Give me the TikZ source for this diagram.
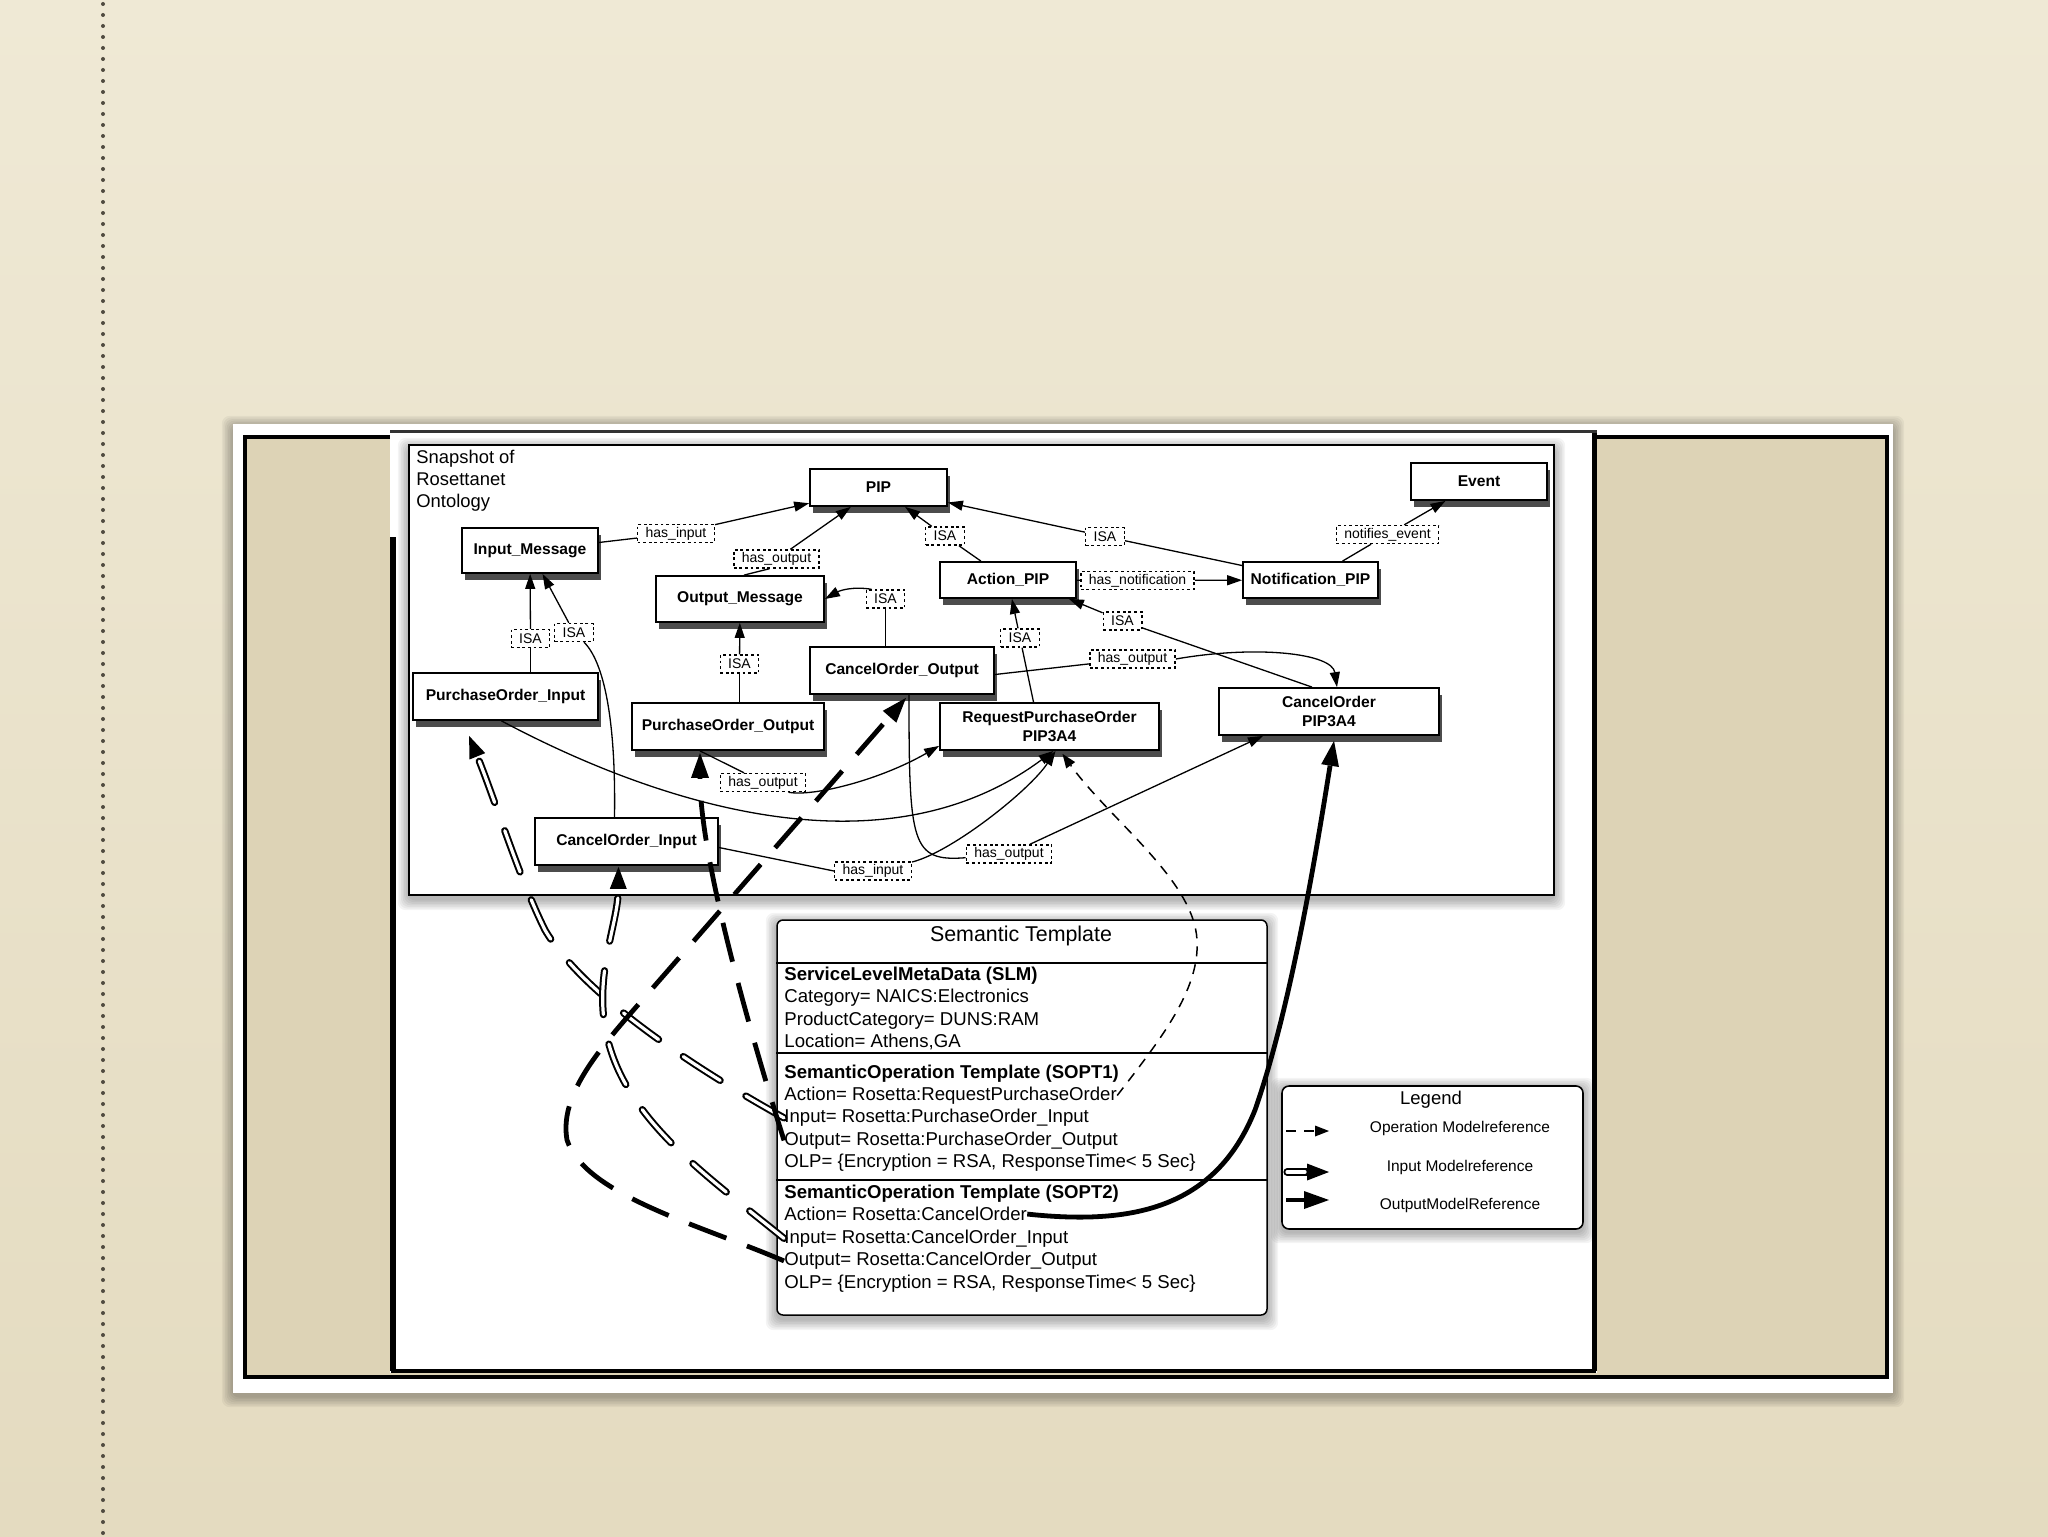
\documentclass[tikz,border=0pt]{standalone}
\usepackage{fontspec}
\setmainfont{Liberation Sans}
\usetikzlibrary{arrows.meta,calc,shadows}
\definecolor{bgtop}{RGB}{239,233,213}
\definecolor{bgbot}{RGB}{228,219,192}
\definecolor{panel}{RGB}{221,211,182}
\definecolor{dotc}{RGB}{80,75,64}
\newcommand{\softshadow}[5]{%
  \foreach \i in {1,...,7}{%
    \fill[black,opacity=0.045,rounded corners=4pt] ({#1-1.6*\i},{#2-1.6*\i+#5}) rectangle ({#3+1.6*\i},{#4+1.6*\i+#5});
  }}
\begin{document}
\begin{tikzpicture}[x=0.5pt,y=-0.5pt,
  onode/.style={draw, fill=white, line width=0.9pt, inner sep=0pt, align=center,
    font=\fontsize{7.8pt}{9.5pt}\selectfont\bfseries,
    drop shadow={shadow xshift=1.5pt,shadow yshift=-3.5pt,fill=black!70,opacity=1}},
  lab/.style={draw, fill=white, line width=0.7pt, dash pattern=on 1.4pt off 1.4pt,
    inner xsep=4pt, inner ysep=0pt, minimum height=9pt, font=\fontsize{7pt}{8pt}\selectfont},
  con/.style={line width=0.65pt},
  arr/.style={con, -{Triangle[length=7.5pt,width=5pt]}},
  tx/.style={anchor=base west, inner sep=0pt, font=\fontsize{9.3pt}{11pt}\selectfont},
  txb/.style={anchor=base west, inner sep=0pt, font=\fontsize{9.3pt}{11pt}\selectfont\bfseries},
  snap/.style={anchor=base west, inner sep=0pt, font=\fontsize{9.2pt}{11pt}\selectfont},
  lgt/.style={anchor=base, inner sep=0pt, font=\fontsize{7.75pt}{9pt}\selectfont},
  opref/.style={line width=0.75pt, dash pattern=on 5pt off 4pt, -{Triangle[length=7pt,width=5.5pt,line width=0pt]}},
  inrefsolid/.style={line width=3.6pt, line cap=round, -{Triangle[length=11pt,width=8.5pt,line width=0pt]},
    postaction={draw=white, line width=1.6pt, arrows=-, shorten >=12pt}},
  inref/.style={inrefsolid, dash pattern=on 22pt off 15pt},
  outref/.style={line width=2.4pt, -{Triangle[length=12.5pt,width=9pt,line width=0pt]}},
  outdash/.style={outref, dash pattern=on 20pt off 11pt}]
\useasboundingbox (0,0) rectangle (2048,1536);
% background
\shade[top color=bgtop, bottom color=bgbot] (0,0) rectangle (2048,1536);
\draw[dotc, line width=2pt, line cap=round, dash pattern=on 0pt off 5.5pt] (103,4) -- (103,1536);
% outer photo frame
\softshadow{233}{424}{1893}{1393}{3}
\fill[white] (233,424) rectangle (1893,1393);
\draw[line width=2pt, fill=panel] (245,437) rectangle (1887,1377);
% paper
\fill[white] (390,430) rectangle (1597,1373);
\draw[line width=3pt] (393,537) -- (393,1371);
\draw[line width=2.5pt] (1594,433) -- (1594,1371);
\draw[line width=2pt] (391,1371) -- (1596,1371);
\draw[black!80, line width=1.5pt] (390,431) -- (1597,431);
% ontology frame
\softshadow{409}{445}{1554}{895}{4}
\node[draw, fill=white, line width=0.9pt, minimum width=572.5pt, minimum height=225pt, inner sep=0pt] (onto) at (981.5,670) {};
\node[snap] (snap1) at (416,463) {Snapshot of};
\node[snap] (snap2) at (416,485.5) {Rosettanet};
\node[snap] (snap3) at (416,507.5) {Ontology};
% concept nodes
\node[onode, minimum width=68.5pt, minimum height=18.5pt] (pip) at (878.5,487.5) {PIP};
\node[onode, minimum width=68pt, minimum height=18.5pt] (event) at (1479,481.5) {Event};
\node[onode, minimum width=68pt, minimum height=22.5pt] (inmsg) at (530,550.5) {Input\_Message};
\node[onode, minimum width=84pt, minimum height=23pt] (outmsg) at (740,599) {Output\_Message};
\node[onode, minimum width=68pt, minimum height=18pt] (actpip) at (1008,580) {Action\_PIP};
\node[onode, minimum width=67.5pt, minimum height=18pt] (notpip) at (1310.5,580) {Notification\_PIP};
\node[onode, minimum width=92pt, minimum height=23.5pt] (coout) at (902,670.5) {CancelOrder\_Output};
\node[onode, minimum width=92.5pt, minimum height=23.5pt] (poin) at (505.5,696.5) {PurchaseOrder\_Input};
\node[onode, minimum width=96pt, minimum height=23.5pt] (poout) at (728,726.5) {PurchaseOrder\_Output};
\node[onode, minimum width=109.5pt, minimum height=23.5pt] (rpo) at (1049.5,726.5) {RequestPurchaseOrder\\PIP3A4};
\node[onode, minimum width=110pt, minimum height=23.5pt] (cop) at (1329,711.5) {CancelOrder\\PIP3A4};
\node[onode, minimum width=91.5pt, minimum height=23.5pt] (coin) at (626.5,841.5) {CancelOrder\_Input};
% relation labels
\node[lab] (l1) at (676,533.5) {has\_input};
\node[lab] (l2) at (776.5,559) {has\_output};
\node[lab] (l3) at (945,536) {ISA};
\node[lab] (l4) at (1105,536.5) {ISA};
\node[lab] (l5) at (1387.5,534.5) {notifies\_event};
\node[lab] (l6) at (1137.5,580.5) {has\_notification};
\node[lab] (l7) at (885.5,599) {ISA};
\node[lab] (l8) at (530.5,638.5) {ISA};
\node[lab] (l9) at (574,632.5) {ISA};
\node[lab] (l10) at (739.5,664) {ISA};
\node[lab] (l11) at (1020,638) {ISA};
\node[lab] (l12) at (1122.5,621) {ISA};
\node[lab] (l13) at (1132.5,659) {has\_output};
\node[lab] (l14) at (763,782.5) {has\_output};
\node[lab] (l15) at (873,871) {has\_input};
\node[lab] (l16) at (1009,854) {has\_output};
% ontology connectors
\draw[con] (inmsg) -- (l1); \draw[arr] (l1) -- (pip);
\draw[con] ([xshift=2pt]outmsg.north) -- ([xshift=-3.5pt]l2.south); \draw[arr] (l2) -- (pip);
\draw[con] (actpip) -- (l3); \draw[arr] (l3) -- (pip);
\draw[con] (notpip) -- (l4); \draw[arr] (l4) -- (pip);
\draw[con] (notpip) -- (l5); \draw[arr] (l5) -- (event);
\draw[con] (actpip) -- (l6); \draw[arr] (l6) -- (notpip);
\draw[con] (l7.south |- coout.north) -- (l7.south);
\draw[arr] ([xshift=3pt]l7.north west) .. controls (852,586) and (839,591) .. (outmsg.east);
\draw[con] (l8.south |- poin.north) -- (l8); \draw[arr] (l8) -- (inmsg);
\draw[con] ([xshift=-6pt]coin.north) .. controls (616,720) and (604,662) .. ([xshift=5pt]l9.south);
\draw[arr] (l9) -- (inmsg);
\draw[con] (l10.south |- poout.north) -- (l10); \draw[arr] (l10) -- (outmsg);
\draw[con] ([xshift=-8pt]rpo.north) -- (l11); \draw[arr] (l11) -- (actpip);
\draw[con] ([xshift=-8.5pt]cop.north) -- (l12); \draw[arr] (l12) -- ([xshift=-4pt]actpip.south east);
\draw[con] ([yshift=-2pt]coout.east) -- (l13);
\draw[arr] (l13.east) .. controls (1256,645) and (1332,653) .. ([xshift=4pt]cop.north);
\draw[con] ([xshift=-14pt]poout.south) -- ([xshift=-9.5pt]l14.north);
\draw[arr] ([xshift=-9pt]l14.south east) .. controls (813,797) and (880,780) .. ([yshift=2.5pt]rpo.south west);
\draw[con] ([yshift=-3pt]coin.east) -- (l15.west);
\draw[arr] ([yshift=4.5pt]l15.east) .. controls (952,852) and (1030,790) .. ([xshift=3pt]rpo.south);
\draw[arr] ([xshift=-2pt]poin.south) .. controls (650,800) and (880,880) .. ([xshift=2pt]rpo.south);
\draw[con] ([xshift=3.5pt]coout.south) .. controls (909,844) and (911,862) .. ([yshift=3pt]l16.south west);
\draw[arr] (l16) -- ([xshift=-33pt]cop.south);
% semantic template
\softshadow{777}{920}{1267}{1315}{4}
\node[draw, fill=white, rounded corners=3pt, line width=0.75pt, minimum width=245pt, minimum height=197.5pt, inner sep=0pt] (tmpl) at (1022,1117.5) {};
\draw[line width=0.6pt] (tmpl.west |- 0,963) -- (tmpl.east |- 0,963);
\draw[line width=0.6pt] (tmpl.west |- 0,1053) -- (tmpl.east |- 0,1053);
\draw[line width=0.6pt] (tmpl.west |- 0,1180) -- (tmpl.east |- 0,1180);
\node[anchor=base, inner sep=0pt, font=\fontsize{10.7pt}{12pt}\selectfont] (stitle) at (1021,941.7) {Semantic Template};
\node[txb] (slm) at (784,980) {ServiceLevelMetaData (SLM)};
\node[tx] (scat) at (784,1002.7) {Category= NAICS:Electronics};
\node[tx] (sprod) at (784,1025.2) {ProductCategory= DUNS:RAM};
\node[tx] (sloc) at (784,1047.7) {Location= Athens,GA};
\node[txb] (sop1) at (784,1078) {SemanticOperation Template (SOPT1)};
\node[tx] (s1act) at (784,1100.3) {Action= Rosetta:RequestPurchaseOrder};
\node[tx] (s1in) at (784,1122.7) {Input= Rosetta:PurchaseOrder\_Input};
\node[tx] (s1out) at (784,1145.2) {Output= Rosetta:PurchaseOrder\_Output};
\node[tx] (s1olp) at (784,1167.7) {OLP= \{Encryption = RSA, ResponseTime< 5 Sec\}};
\node[txb] (sop2) at (784,1198.3) {SemanticOperation Template (SOPT2)};
\node[tx] (s2act) at (784,1220.7) {Action= Rosetta:CancelOrder};
\node[tx] (s2in) at (784,1243.2) {Input= Rosetta:CancelOrder\_Input};
\node[tx] (s2out) at (784,1265.7) {Output= Rosetta:CancelOrder\_Output};
\node[tx] (s2olp) at (784,1288.2) {OLP= \{Encryption = RSA, ResponseTime< 5 Sec\}};
% legend
\softshadow{1282}{1086}{1583}{1229}{3}
\node[draw, fill=white, rounded corners=3.5pt, line width=0.8pt, minimum width=150.5pt, minimum height=71.5pt, inner sep=0pt] (leg) at (1432.5,1157.5) {};
\node[anchor=base, inner sep=0pt, font=\fontsize{9.25pt}{10pt}\selectfont] (legt) at (1431,1104) {Legend};
\node[lgt] (leg1) at (1460,1132.7) {Operation Modelreference};
\node[lgt] (leg2) at (1460,1171) {Input Modelreference};
\node[lgt] (leg3) at (1460,1209) {OutputModelReference};
\coordinate (la1) at (1286,1131); \coordinate (lb1) at (1329,1131);
\coordinate (la2) at (1287,1172); \coordinate (lb2) at (1329,1172);
\coordinate (la3) at (1286,1200); \coordinate (lb3) at (1329,1200);
\draw[opref] (la1) -- (lb1);
\draw[inrefsolid] (la2) -- (lb2);
\draw[outref] (la3) -- (lb3);
% model references
\draw[inref] (s1in.west) .. controls (680,1060) and (580,990) .. (545,930)
  .. controls (520,880) and (495,800) .. ($(poin.south west)+(57,15)$);
\draw[inref] (s2in.west) .. controls (700,1170) and (610,1110) .. (603,1010)
  .. controls (600,960) and (618,920) .. ($(coin.south)+(-8,1)$);
\draw[outdash] (s1out.west) .. controls (740,1000) and (700,850) .. ($(poout.south)+(-28,2)$);
\draw[outdash] (s2out.west) .. controls (700,1225) and (585,1195) .. (567,1140)
  .. controls (560,1100) and (590,1060) .. (630,1014) -- ($(coout.south)+(4,3)$);
\draw[opref] (s1act.east) .. controls (1160,1040) and (1200,990) .. (1197,940)
  .. controls (1194,880) and (1110,820) .. ($(rpo.south)+(13,3)$);
\draw[outref] (s2act.east) .. controls (1130,1225) and (1215,1210) .. (1255,1110)
  .. controls (1290,1010) and (1315,860) .. ($(cop.south)+(5,5)$);
\end{tikzpicture}
\end{document}
